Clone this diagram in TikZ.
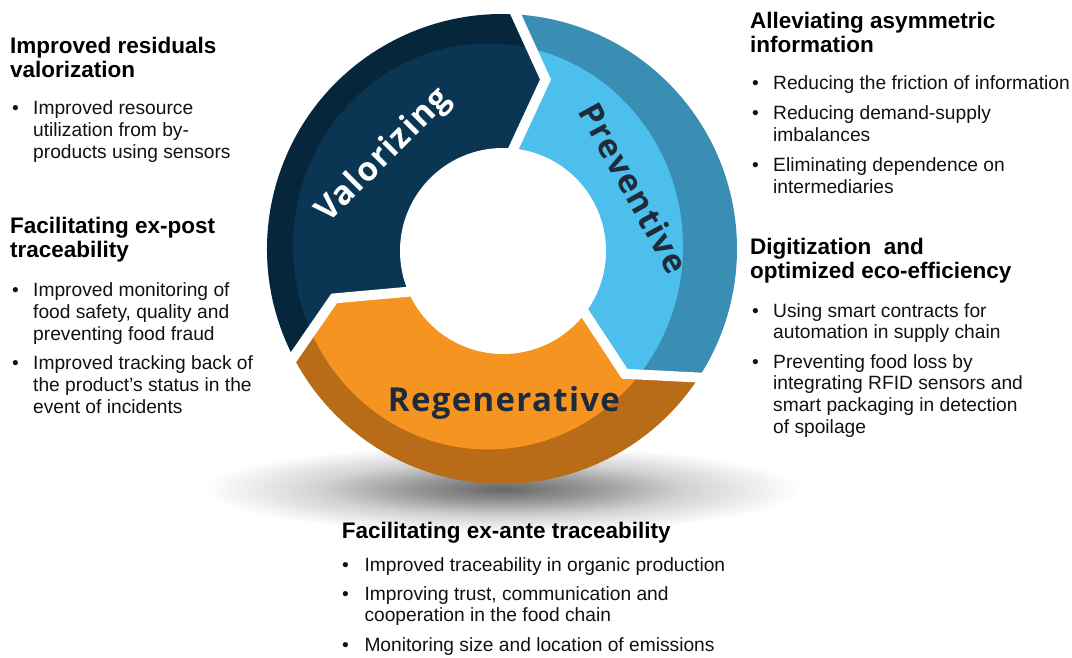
\documentclass[tikz,border=0pt]{standalone}
\usepackage{fontspec}
\setmainfont{Liberation Sans}
\newfontfamily\ringfont[LetterSpace=4]{Open Sans}
\definecolor{navyface}{HTML}{0B3653}
\definecolor{navyband}{HTML}{05263B}
\definecolor{blueface}{HTML}{4CBFEC}
\definecolor{blueband}{HTML}{3A8EB4}
\definecolor{orangeface}{HTML}{F59421}
\definecolor{orangeband}{HTML}{B86C18}
\definecolor{ringtxt}{HTML}{1E2B3A}
\definecolor{txt}{HTML}{111111}
\pgfdeclareradialshading{softshadow}{\pgfpointorigin}{color(0bp)=(black!60); color(7bp)=(black!42); color(15bp)=(black!18); color(25bp)=(white); color(50bp)=(white)}
\newcommand\hdfont{\fontsize{22.5}{24}\selectfont\bfseries}
\newcommand\itfont{\fontsize{19.2}{21.7}\selectfont}
\newcommand\lns[1]{\begin{tabular}[t]{@{}l@{}}#1\end{tabular}}
\begin{document}
\begin{tikzpicture}[x=1pt,y=1pt,
  hd/.style={anchor=base west, inner sep=0pt, font=\hdfont, text=black},
  itm/.style={anchor=base west, inner sep=0pt, font=\itfont, text=txt},
  blt/.style={anchor=base west, inner sep=0pt, font=\itfont, text=txt},
  ringlbl/.style={inner sep=0pt, font=\ringfont\bfseries\fontsize{33}{35}\selectfont},
  gap/.style={draw=white, line width=10pt, line join=miter}]
\useasboundingbox (0,0) rectangle (1072,657);
% shadow under the wheel
\shade[shading=softshadow] (502,168) ellipse [x radius=300, y radius=44];
\begin{scope}[shift={(502,408)}]
  % Valorizing
  \begin{scope}
    \clip (208.3:235) arc[start angle=208.3, end angle=87.5, radius=235] -- (75.6:175) -- (84.5:98)
          arc[start angle=84.5, end angle=206, radius=98] -- (196.4:175) -- cycle;
    \fill[navyband] (0,0) circle (240);
    \fill[navyface] (-14,2.5) ellipse [x radius=195, y radius=203];
  \end{scope}
  % Preventive
  \begin{scope}
    \clip (87.5:235) arc[start angle=87.5, end angle=-32.2, radius=235] -- (-45.5:175) -- (-36:98)
          arc[start angle=-36, end angle=84.5, radius=98] -- (75.6:175) -- cycle;
    \fill[blueband] (0,0) circle (240);
    \fill[blueface] (-14,2.5) ellipse [x radius=195, y radius=203];
  \end{scope}
  % Regenerative
  \begin{scope}
    \clip (-32.2:235) arc[start angle=-32.2, end angle=-151.7, radius=235] -- (-163.6:175) -- (-154:98)
          arc[start angle=-154, end angle=-36, radius=98] -- (-45.5:175) -- cycle;
    \fill[orangeband] (0,0) circle (240);
    \fill[orangeface] (-14,2.5) ellipse [x radius=195, y radius=203];
  \end{scope}
  % white gaps between the arrows
  \draw[gap] (87.5:242) -- (75.6:175) -- (84.5:96);
  \draw[gap] (-32.2:242) -- (-45.5:175) -- (-36:96);
  \draw[gap] (208.3:242) -- (196.4:175) -- (206:96);
  % hole
  \fill[white] (1,-2) circle (103);
  % labels
  \node[ringlbl, text=white, rotate=45] (val) at (-118,93) {Valorizing};
  \node[ringlbl, text=ringtxt, rotate=-61] (pre) at (132,61) {Preventive};
  \node[ringlbl, text=ringtxt, anchor=base] (reg) at (2,-163) {Regenerative};
\end{scope}
% left column
\node[hd] (h1) at (10,603.7) {\lns{Improved residuals\\valorization}};
\node[blt] (b1) at (12,542) {•};
\node[itm] (t1) at (33,542) {\lns{Improved resource\\utilization from by-\\products using sensors}};
\node[hd] (h2) at (10,423) {\lns{Facilitating ex-post\\traceability}};
\node[blt] (b2a) at (12,360.3) {•};
\node[itm] (t2a) at (33,360.3) {\lns{Improved monitoring of\\food safety, quality and\\preventing food fraud}};
\node[blt] (b2b) at (12,287) {•};
\node[itm] (t2b) at (33,287) {\lns{Improved tracking back of\\the product’s status in the\\event of incidents}};
% right column
\node[hd] (h3) at (750,628) {\lns{Alleviating asymmetric\\information}};
\node[blt] (b3a) at (752,567) {•};
\node[itm] (t3a) at (773,567) {Reducing the friction of information};
\node[blt] (b3b) at (752,537) {•};
\node[itm] (t3b) at (773,537) {\lns{Reducing demand-supply\\imbalances}};
\node[blt] (b3c) at (752,485.3) {•};
\node[itm] (t3c) at (773,485.3) {\lns{Eliminating dependence on\\intermediaries}};
\node[hd] (h4) at (750,402) {\lns{Digitization\ \ and\\optimized eco-efficiency}};
\node[blt] (b4a) at (752,339.7) {•};
\node[itm] (t4a) at (773,339.7) {\lns{Using smart contracts for\\automation in supply chain}};
\node[blt] (b4b) at (752,288.7) {•};
\node[itm] (t4b) at (773,288.7) {\lns{Preventing food loss by\\integrating RFID sensors and\\smart packaging in detection\\of spoilage}};
% bottom block
\node[hd] (h5) at (341.7,118.7) {Facilitating ex-ante traceability};
\node[blt] (b5a) at (342,86) {•};
\node[itm] (t5a) at (364.3,86) {Improved traceability in organic production};
\node[blt] (b5b) at (342,57) {•};
\node[itm] (t5b) at (364.3,57) {\lns{Improving trust, communication and\\cooperation in the food chain}};
\node[blt] (b5c) at (342,5.3) {•};
\node[itm] (t5c) at (364.3,5.3) {Monitoring size and location of emissions};
\end{tikzpicture}
\end{document}
